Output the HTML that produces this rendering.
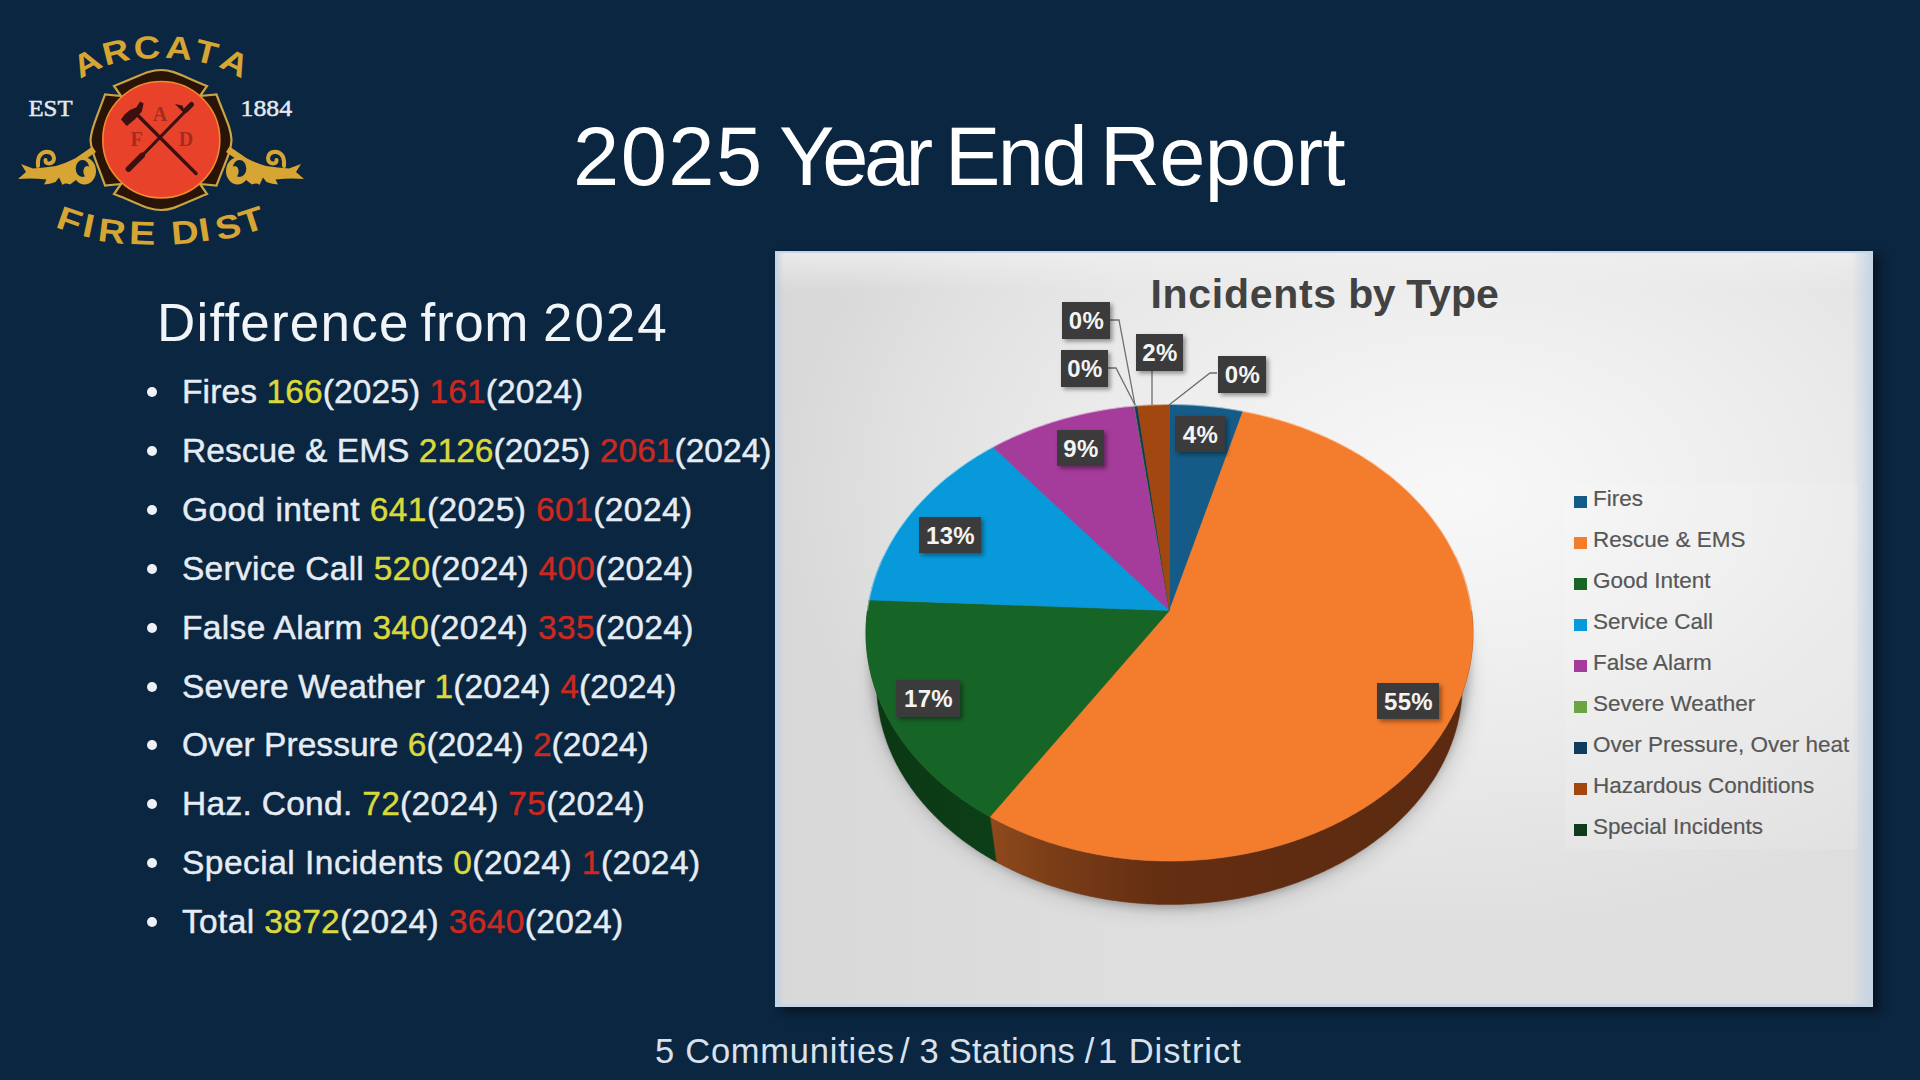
<!DOCTYPE html>
<html><head><meta charset="utf-8">
<style>
html,body{margin:0;padding:0;}
body{width:1920px;height:1080px;overflow:hidden;background:#0b2640;position:relative;font-family:"Liberation Sans",sans-serif;}
.abs{position:absolute;}
.tw{position:absolute;top:107px;font-size:83px;line-height:100px;color:#fff;white-space:nowrap;}
.sb{position:absolute;top:292.5px;font-size:53px;line-height:60px;color:#f2f5f8;white-space:nowrap;}
.bi{position:absolute;left:182px;height:40px;line-height:40px;font-size:33.5px;color:#e6ecf3;white-space:nowrap;-webkit-text-stroke:0.45px currentColor;}
.bi .y{color:#d9d93c;}
.bi .r{color:#c9291f;}
.dot{position:absolute;left:-35px;top:15px;width:10px;height:10px;border-radius:50%;background:#eef2f6;}
#chart{position:absolute;left:775px;top:251px;width:1098px;height:756px;overflow:hidden;
 background:linear-gradient(to right, rgba(190,205,225,0) 0, rgba(190,205,225,0) calc(100% - 22px), rgba(190,208,228,0.85) 100%),
 linear-gradient(to right, rgba(185,203,225,0.75) 0, rgba(185,203,225,0) 9px),
 linear-gradient(to bottom, rgba(240,240,240,0.8) 0, rgba(240,240,240,0) 40px),
 radial-gradient(ellipse 62% 58% at 62% 32%, #f8f8f8 0%, #efefef 40%, rgba(225,225,225,0) 100%),
 linear-gradient(to right, #d8d8d8 0%, #dfdfdf 35%, #dedede 100%);
 box-shadow:7px 5px 9px rgba(8,14,26,0.75);}
#chart:after{content:"";position:absolute;left:0;top:0;right:0;bottom:0;border:2px solid #c6d5e5;border-right-width:3px;border-bottom-width:3px;}
#csvg{position:absolute;left:-775px;top:-251px;}
#ctitle{position:absolute;left:375.5px;top:19px;font-weight:bold;font-size:41px;line-height:48px;color:#424242;white-space:nowrap;}
#legendbox{position:absolute;left:790px;top:232px;width:293px;height:366px;background:rgba(255,255,255,0.12);}
.lg{position:absolute;left:799px;height:28px;line-height:28px;font-size:22.5px;color:#575757;white-space:nowrap;-webkit-text-stroke:0.2px #575757;}
.sq{display:inline-block;width:13px;height:12px;margin-right:6px;vertical-align:-2px;}
.lab{font-family:"Liberation Sans",sans-serif;font-weight:bold;font-size:24px;fill:#f4f4f4;letter-spacing:0.3px;}
.ft{position:absolute;top:1031px;font-size:34.5px;line-height:40px;color:#d8e1ec;white-space:nowrap;}
#logo{position:absolute;left:0;top:0;}
</style></head><body>
<svg id="logo" width="320" height="260" viewBox="0 0 320 260"><g fill="#d6a534" font-family="Liberation Sans" font-weight="bold" font-size="32" text-anchor="middle">
<text transform="translate(92,72.5) rotate(-28) scale(1.18,1)">A</text>
<text transform="translate(118.5,62.5) rotate(-14) scale(1.15,1)">R</text>
<text transform="translate(147.5,58.5) rotate(-3) scale(1.15,1)">C</text>
<text transform="translate(178,59) rotate(5) scale(1.15,1)">A</text>
<text transform="translate(204,63) rotate(14) scale(1.15,1)">T</text>
<text transform="translate(230,72.5) rotate(27) scale(1.18,1)">A</text>
</g>
<g fill="#d6a534" font-family="Liberation Sans" font-weight="bold" font-size="33" text-anchor="middle">
<text transform="translate(66,231) rotate(19) scale(1.2,1)">F</text>
<text transform="translate(86.5,237) rotate(12) scale(1.2,1)">I</text>
<text transform="translate(110.5,242.5) rotate(7) scale(1.15,1)">R</text>
<text transform="translate(142,244.5) rotate(2) scale(1.2,1)">E</text>
<text transform="translate(186,243.5) rotate(-5) scale(1.15,1)">D</text>
<text transform="translate(206,241) rotate(-9) scale(1.2,1)">I</text>
<text transform="translate(230.5,238) rotate(-13) scale(1.15,1)">S</text>
<text transform="translate(255,231) rotate(-18) scale(1.2,1)">T</text>
</g>
<g fill="#e3e9f0" font-family="Liberation Serif" font-size="24">
<text x="28.5" y="115.5" textLength="44" lengthAdjust="spacingAndGlyphs" stroke="#e3e9f0" stroke-width="0.5">EST</text>
<text x="240.5" y="115.5" textLength="51.5" lengthAdjust="spacingAndGlyphs" stroke="#e3e9f0" stroke-width="0.5">1884</text>
</g>
<!-- badge -->
<path d="M114,86 C140,76 148,70 161,70 C174,70 182,76 207,86 L200,96 L216.5,94.5 C226,120 231,128 231.5,140 C231,152 226,160 216.5,185.5 L200,184 L207,194 C182,204 174,210 161,210 C148,210 140,204 114,194 L121,184 L105,185.5 C96,160 91,152 90.5,140 C91,128 96,120 105,94.5 L121,96 Z" fill="#2a1408" stroke="#c9a445" stroke-width="2.2" stroke-linejoin="miter"/>
<ellipse cx="161.3" cy="139.7" rx="58.5" ry="58.2" fill="#e8432a" stroke="#f28a2c" stroke-width="1.6"/>
<!-- axe & pike -->
<g stroke="#3a1010" stroke-linecap="round" fill="#3a1010">
<line x1="138.5" y1="116" x2="196" y2="173.5" stroke-width="3.4"/>
<line x1="192" y1="104.5" x2="130" y2="168" stroke-width="3.2"/>
<line x1="128.5" y1="169" x2="142" y2="155.5" stroke-width="5.8"/>
<line x1="186" y1="110" x2="191.5" y2="104.5" stroke-width="5"/>
<path d="M121,119.5 L126.8,126 L134.7,119.4 L141.8,111.5 L143.6,103.5 L140.2,101.6 L136.2,107.6 L130,110 L124.4,114.7 Z" stroke="none"/>
<path d="M184,112 L177.5,105.5 L182,106.5 Z" stroke-width="1.6"/>
</g>
<g fill="#a32b1f" font-family="Liberation Serif" font-weight="bold" font-size="20" text-anchor="middle">
<text x="160" y="120.5">A</text>
<text x="136.5" y="145.5">F</text>
<text x="186" y="145.5">D</text>
</g>
<!-- scrolls -->
<g id="scrL" fill="#d6a534">
<path d="M18,179 L26,172 L21,164 L33,168.5 Q44,167.5 56,166 Q66,163 75,158.5 L92.5,146.5 L96,152 L86,159 L76,162 L74,172 L76,180 L70,184.5 Q65,182.5 62.5,185 L59,177.5 L55.5,182 Q50,184 44,184.5 L46.5,179.5 Q32,178 18,179 Z"/>
<ellipse cx="84.5" cy="171" rx="11.5" ry="13.5"/><ellipse cx="82.5" cy="168.5" rx="6.8" ry="8.5" fill="#0b2640"/><ellipse cx="87.2" cy="171.5" rx="3.8" ry="5.5"/>
<path d="M38,166 Q37,154 45,152 Q53,151 54,158 Q54,163 49,163.5 Q45,163.5 45.5,160" fill="none" stroke="#d6a534" stroke-width="4" stroke-linecap="round"/>
</g>
<use href="#scrL" transform="translate(322,0) scale(-1,1)"/>
</svg>
<div class="tw" style="left:573px;letter-spacing:1.5px">2025</div><div class="tw" style="left:779px;letter-spacing:-4.5px">Year</div><div class="tw" style="left:945px;letter-spacing:-2.5px">End</div><div class="tw" style="left:1100px;letter-spacing:-0.7px">Report</div>
<div class="sb" style="left:157px;letter-spacing:1.2px">Difference</div><div class="sb" style="left:420.5px;letter-spacing:0.65px">from</div><div class="sb" style="left:543px;letter-spacing:1.9px">2024</div>
<div class="bi" style="top:372.0px;letter-spacing:0.11px"><span class="dot"></span>Fires <span class="y">166</span>(2025) <span class="r">161</span>(2024)</div>
<div class="bi" style="top:430.9px;letter-spacing:0.03px"><span class="dot"></span>Rescue &amp; EMS <span class="y">2126</span>(2025) <span class="r">2061</span>(2024)</div>
<div class="bi" style="top:489.8px;letter-spacing:0.43px"><span class="dot"></span>Good intent <span class="y">641</span>(2025) <span class="r">601</span>(2024)</div>
<div class="bi" style="top:548.7px;letter-spacing:0.28px"><span class="dot"></span>Service Call <span class="y">520</span>(2024) <span class="r">400</span>(2024)</div>
<div class="bi" style="top:607.6px;letter-spacing:0.35px"><span class="dot"></span>False Alarm <span class="y">340</span>(2024) <span class="r">335</span>(2024)</div>
<div class="bi" style="top:666.5px;letter-spacing:0.12px"><span class="dot"></span>Severe Weather <span class="y">1</span>(2024) <span class="r">4</span>(2024)</div>
<div class="bi" style="top:725.4px;letter-spacing:0.04px"><span class="dot"></span>Over Pressure <span class="y">6</span>(2024) <span class="r">2</span>(2024)</div>
<div class="bi" style="top:784.3px;letter-spacing:0.30px"><span class="dot"></span>Haz. Cond. <span class="y">72</span>(2024) <span class="r">75</span>(2024)</div>
<div class="bi" style="top:843.2px;letter-spacing:0.48px"><span class="dot"></span>Special Incidents <span class="y">0</span>(2024) <span class="r">1</span>(2024)</div>
<div class="bi" style="top:902.1px;letter-spacing:0.35px"><span class="dot"></span>Total <span class="y">3872</span>(2024) <span class="r">3640</span>(2024)</div>
<div id="chart">
<svg id="csvg" width="1920" height="1080" viewBox="0 0 1920 1080">
<defs>
<linearGradient id="gOr" gradientUnits="userSpaceOnUse" x1="990" y1="0" x2="1475" y2="0"><stop offset="0" stop-color="#8f4a1c"/><stop offset="0.12" stop-color="#7c3e18"/><stop offset="0.35" stop-color="#642e12"/><stop offset="1" stop-color="#5a2a10"/></linearGradient>
<linearGradient id="gGr" gradientUnits="userSpaceOnUse" x1="866" y1="0" x2="990" y2="0"><stop offset="0" stop-color="#0b3713"/><stop offset="1" stop-color="#0c3f17"/></linearGradient>
<filter id="blur" x="-30%" y="-30%" width="160%" height="160%"><feGaussianBlur stdDeviation="12"/></filter><filter id="blur2" x="-30%" y="-30%" width="160%" height="160%"><feGaussianBlur stdDeviation="4"/></filter>
<filter id="ds" x="-30%" y="-30%" width="160%" height="160%"><feDropShadow dx="2.5" dy="2.5" stdDeviation="2.2" flood-color="#000" flood-opacity="0.4"/></filter>
</defs>
<ellipse cx="1172" cy="680" rx="296" ry="228" fill="#000" opacity="0.16" filter="url(#blur)"/><ellipse cx="1170" cy="660" rx="300" ry="248" fill="#000" opacity="0.22" filter="url(#blur2)"/>
<polygon points="1455.3,555.9 1456.3,558.0 1457.2,560.1 1458.1,562.2 1459.0,564.3 1459.9,566.5 1460.8,568.6 1461.6,570.8 1462.4,572.9 1463.2,575.1 1463.9,577.3 1464.6,579.5 1465.3,581.6 1465.9,583.8 1466.6,586.1 1467.2,588.3 1467.7,590.5 1468.3,592.7 1468.8,594.9 1469.3,597.2 1469.7,599.4 1470.2,601.7 1470.6,603.9 1470.9,606.2 1471.3,608.4 1471.6,610.7 1471.9,613.0 1472.1,615.2 1472.3,617.5 1472.5,619.8 1472.7,622.1 1472.8,624.4 1472.9,626.7 1473.0,629.0 1473.0,631.3 1473.0,633.6 1473.0,635.9 1472.9,638.2 1472.8,640.5 1472.7,642.8 1472.6,645.1 1472.4,647.4 1472.2,649.7 1471.9,652.0 1471.6,654.4 1471.3,656.7 1471.0,659.0 1470.6,661.3 1470.2,663.6 1469.8,665.9 1469.3,668.2 1468.8,670.5 1468.3,672.8 1467.7,675.1 1467.1,677.4 1466.5,679.7 1465.8,682.0 1465.1,684.3 1464.4,686.6 1463.7,688.9 1462.9,691.2 1462.1,693.5 1461.2,695.7 1460.3,698.0 1459.4,700.3 1458.5,702.5 1457.5,704.8 1456.5,707.0 1455.4,709.3 1454.4,711.5 1453.2,713.8 1452.1,716.0 1450.9,718.2 1449.7,720.4 1448.5,722.6 1447.2,724.8 1445.9,727.0 1444.6,729.2 1443.2,731.3 1441.9,733.5 1440.4,735.6 1439.0,737.8 1437.5,739.9 1436.0,742.0 1434.4,744.1 1432.8,746.2 1431.2,748.3 1429.6,750.4 1427.9,752.5 1426.2,754.5 1424.5,756.6 1422.7,758.6 1420.9,760.6 1419.1,762.6 1417.2,764.6 1415.4,766.6 1413.5,768.5 1411.5,770.5 1409.5,772.4 1407.5,774.4 1405.5,776.3 1403.5,778.2 1401.4,780.0 1399.3,781.9 1397.1,783.7 1395.0,785.6 1392.8,787.4 1390.5,789.2 1388.3,791.0 1386.0,792.7 1383.7,794.5 1381.4,796.2 1379.0,797.9 1376.6,799.6 1374.2,801.3 1371.8,802.9 1369.3,804.6 1366.8,806.2 1364.3,807.8 1361.8,809.4 1359.2,810.9 1356.7,812.5 1354.1,814.0 1351.4,815.5 1348.8,816.9 1346.1,818.4 1343.4,819.8 1340.7,821.3 1337.9,822.6 1335.2,824.0 1332.4,825.4 1329.6,826.7 1326.8,828.0 1323.9,829.3 1321.1,830.5 1318.2,831.8 1315.3,833.0 1312.3,834.2 1309.4,835.3 1306.4,836.5 1303.5,837.6 1300.5,838.7 1297.5,839.7 1294.4,840.8 1291.4,841.8 1288.3,842.8 1285.2,843.8 1282.2,844.7 1279.0,845.6 1275.9,846.5 1272.8,847.4 1269.6,848.2 1266.5,849.1 1263.3,849.8 1260.1,850.6 1256.9,851.4 1253.7,852.1 1250.5,852.7 1247.3,853.4 1244.0,854.0 1240.8,854.6 1237.5,855.2 1234.2,855.8 1231.0,856.3 1227.7,856.8 1224.4,857.3 1221.1,857.7 1217.8,858.1 1214.4,858.5 1211.1,858.9 1207.8,859.2 1204.5,859.5 1201.1,859.8 1197.8,860.0 1194.4,860.3 1191.1,860.4 1187.7,860.6 1184.4,860.8 1181.0,860.9 1177.7,860.9 1174.3,861.0 1171.0,861.0 1167.6,861.0 1164.2,861.0 1160.9,860.9 1157.5,860.8 1154.2,860.7 1150.8,860.6 1147.5,860.4 1144.1,860.2 1140.8,860.0 1137.4,859.7 1134.1,859.5 1130.8,859.2 1127.4,858.8 1124.1,858.5 1120.8,858.1 1117.5,857.7 1114.2,857.2 1110.9,856.7 1107.6,856.2 1104.3,855.7 1101.1,855.1 1097.8,854.6 1094.6,854.0 1091.3,853.3 1088.1,852.7 1084.9,852.0 1081.7,851.3 1078.5,850.5 1075.3,849.7 1072.1,849.0 1069.0,848.1 1065.8,847.3 1062.7,846.4 1059.6,845.5 1056.4,844.6 1053.4,843.7 1050.3,842.7 1047.2,841.7 1044.2,840.7 1041.2,839.6 1038.1,838.5 1035.2,837.4 1032.2,836.3 1029.2,835.2 1026.3,834.0 1023.4,832.8 1020.5,831.6 1017.6,830.4 1014.7,829.1 1011.9,827.8 1009.0,826.5 1006.2,825.2 1003.5,823.8 1000.7,822.5 998.0,821.1 995.2,819.7 992.6,818.2 989.9,816.8 996.2,861.8 998.7,863.2 1001.3,864.6 1004.0,866.0 1006.6,867.3 1009.3,868.6 1012.0,869.9 1014.7,871.2 1017.4,872.5 1020.1,873.7 1022.9,874.9 1025.7,876.1 1028.5,877.3 1031.3,878.5 1034.1,879.6 1037.0,880.7 1039.9,881.8 1042.7,882.8 1045.6,883.9 1048.6,884.9 1051.5,885.9 1054.5,886.8 1057.4,887.8 1060.4,888.7 1063.4,889.6 1066.4,890.4 1069.4,891.3 1072.5,892.1 1075.5,892.9 1078.6,893.6 1081.7,894.4 1084.7,895.1 1087.8,895.8 1090.9,896.5 1094.1,897.1 1097.2,897.7 1100.3,898.3 1103.5,898.9 1106.6,899.4 1109.8,899.9 1113.0,900.4 1116.1,900.8 1119.3,901.3 1122.5,901.7 1125.7,902.0 1128.9,902.4 1132.1,902.7 1135.3,903.0 1138.6,903.3 1141.8,903.5 1145.0,903.8 1148.2,903.9 1151.5,904.1 1154.7,904.2 1157.9,904.4 1161.2,904.4 1164.4,904.5 1167.7,904.5 1170.9,904.5 1174.2,904.5 1177.4,904.4 1180.6,904.4 1183.9,904.3 1187.1,904.1 1190.3,904.0 1193.6,903.8 1196.8,903.6 1200.0,903.3 1203.2,903.1 1206.5,902.8 1209.7,902.4 1212.9,902.1 1216.1,901.7 1219.3,901.3 1222.5,900.9 1225.6,900.4 1228.8,900.0 1232.0,899.5 1235.1,898.9 1238.3,898.4 1241.4,897.8 1244.5,897.2 1247.7,896.5 1250.8,895.9 1253.9,895.2 1256.9,894.5 1260.0,893.7 1263.1,893.0 1266.1,892.2 1269.2,891.4 1272.2,890.5 1275.2,889.7 1278.2,888.8 1281.2,887.9 1284.2,886.9 1287.1,886.0 1290.1,885.0 1293.0,884.0 1295.9,883.0 1298.8,881.9 1301.6,880.8 1304.5,879.7 1307.3,878.6 1310.2,877.5 1313.0,876.3 1315.7,875.1 1318.5,873.9 1321.3,872.6 1324.0,871.4 1326.7,870.1 1329.4,868.8 1332.0,867.5 1334.7,866.1 1337.3,864.8 1339.9,863.4 1342.5,862.0 1345.1,860.6 1347.6,859.1 1350.1,857.7 1352.6,856.2 1355.1,854.7 1357.5,853.1 1359.9,851.6 1362.3,850.0 1364.7,848.5 1367.1,846.9 1369.4,845.2 1371.7,843.6 1374.0,842.0 1376.2,840.3 1378.4,838.6 1380.6,836.9 1382.8,835.2 1384.9,833.5 1387.1,831.7 1389.2,829.9 1391.2,828.2 1393.3,826.4 1395.3,824.6 1397.3,822.7 1399.2,820.9 1401.1,819.0 1403.0,817.2 1404.9,815.3 1406.8,813.4 1408.6,811.5 1410.4,809.6 1412.1,807.6 1413.9,805.7 1415.6,803.7 1417.2,801.7 1418.9,799.8 1420.5,797.8 1422.1,795.8 1423.6,793.8 1425.1,791.7 1426.6,789.7 1428.1,787.6 1429.5,785.6 1430.9,783.5 1432.3,781.4 1433.7,779.4 1435.0,777.3 1436.3,775.2 1437.5,773.1 1438.7,770.9 1439.9,768.8 1441.1,766.7 1442.2,764.6 1443.3,762.4 1444.4,760.3 1445.4,758.1 1446.4,755.9 1447.4,753.8 1448.4,751.6 1449.3,749.4 1450.1,747.2 1451.0,745.0 1451.8,742.8 1452.6,740.6 1453.4,738.4 1454.1,736.2 1454.8,734.0 1455.5,731.8 1456.1,729.6 1456.7,727.4 1457.3,725.2 1457.8,722.9 1458.3,720.7 1458.8,718.5 1459.3,716.2 1459.7,714.0 1460.1,711.8 1460.4,709.6 1460.8,707.3 1461.1,705.1 1461.3,702.9 1461.6,700.6 1461.8,698.4 1461.9,696.2 1462.1,693.9 1462.2,691.7 1462.3,689.5 1462.3,687.3 1462.4,685.0 1462.4,682.8 1462.3,680.6 1462.3,678.4 1462.2,676.2 1462.1,674.0 1461.9,671.8 1461.7,669.5 1461.5,667.3 1461.3,665.2 1461.0,663.0 1460.7,660.8 1460.4,658.6 1460.0,656.4 1459.6,654.2 1459.2,652.1 1458.8,649.9 1458.3,647.7 1457.8,645.6 1457.3,643.4 1456.8,641.3 1456.2,639.2 1455.6,637.0 1454.9,634.9 1454.3,632.8 1453.6,630.7 1452.9,628.6 1452.1,626.5 1451.4,624.4 1450.6,622.4 1449.8,620.3 1448.9,618.2 1448.0,616.2 1447.1,614.1 1446.2,612.1 1445.3,610.1" fill="url(#gOr)" stroke="#6e3414" stroke-width="0.5"/>
<polygon points="989.9,816.8 987.2,815.3 984.6,813.8 982.0,812.3 979.5,810.7 976.9,809.2 974.4,807.6 971.9,806.0 969.4,804.4 967.0,802.8 964.5,801.1 962.1,799.4 959.8,797.8 957.4,796.0 955.1,794.3 952.8,792.6 950.5,790.8 948.3,789.1 946.1,787.3 943.9,785.5 941.7,783.6 939.6,781.8 937.5,779.9 935.4,778.1 933.4,776.2 931.4,774.3 929.4,772.4 927.4,770.4 925.5,768.5 923.6,766.5 921.7,764.5 919.9,762.6 918.0,760.6 916.3,758.6 914.5,756.5 912.8,754.5 911.1,752.5 909.4,750.4 907.8,748.3 906.2,746.2 904.6,744.1 903.0,742.0 901.5,739.9 900.1,737.8 898.6,735.7 897.2,733.5 895.8,731.4 894.4,729.2 893.1,727.1 891.8,724.9 890.6,722.7 889.3,720.5 888.1,718.3 886.9,716.1 885.8,713.9 884.7,711.6 883.6,709.4 882.6,707.2 881.6,704.9 880.6,702.7 879.7,700.4 878.7,698.2 877.9,695.9 877.0,693.7 876.2,691.4 875.4,689.1 874.6,686.8 873.9,684.6 873.2,682.3 872.6,680.0 871.9,677.7 871.3,675.4 870.8,673.1 870.3,670.8 869.7,668.5 869.3,666.2 868.8,663.9 868.4,661.6 868.1,659.3 867.7,657.0 867.4,654.7 867.1,652.4 866.9,650.1 866.7,647.8 866.5,645.5 866.3,643.2 866.2,640.9 866.1,638.6 866.0,636.3 866.0,634.0 866.0,631.7 866.0,629.4 866.1,627.1 866.2,624.8 866.3,622.5 866.5,620.3 866.6,618.0 866.9,615.7 867.1,613.4 867.4,611.2 867.7,608.9 868.0,606.7 868.4,604.4 868.7,602.2 869.2,599.9 879.7,652.6 879.3,654.7 878.9,656.9 878.5,659.1 878.2,661.2 877.9,663.4 877.7,665.6 877.4,667.8 877.2,670.0 877.1,672.2 876.9,674.4 876.8,676.6 876.7,678.8 876.7,681.0 876.6,683.2 876.6,685.4 876.7,687.6 876.7,689.9 876.8,692.1 876.9,694.3 877.1,696.5 877.3,698.7 877.5,701.0 877.7,703.2 878.0,705.4 878.3,707.6 878.6,709.9 879.0,712.1 879.4,714.3 879.8,716.5 880.2,718.7 880.7,721.0 881.2,723.2 881.8,725.4 882.4,727.6 883.0,729.8 883.6,732.0 884.3,734.2 885.0,736.4 885.7,738.6 886.5,740.8 887.2,743.0 888.1,745.2 888.9,747.4 889.8,749.6 890.7,751.7 891.7,753.9 892.6,756.1 893.6,758.2 894.7,760.4 895.7,762.5 896.8,764.7 898.0,766.8 899.1,768.9 900.3,771.0 901.5,773.1 902.8,775.2 904.1,777.3 905.4,779.4 906.7,781.5 908.1,783.6 909.5,785.6 910.9,787.7 912.4,789.7 913.9,791.7 915.4,793.8 916.9,795.8 918.5,797.8 920.1,799.7 921.8,801.7 923.4,803.7 925.1,805.6 926.8,807.6 928.6,809.5 930.4,811.4 932.2,813.3 934.0,815.2 935.9,817.1 937.8,819.0 939.7,820.8 941.6,822.6 943.6,824.5 945.6,826.3 947.7,828.1 949.7,829.8 951.8,831.6 953.9,833.3 956.0,835.1 958.2,836.8 960.4,838.5 962.6,840.2 964.8,841.8 967.1,843.5 969.4,845.1 971.7,846.7 974.1,848.3 976.4,849.9 978.8,851.4 981.2,853.0 983.7,854.5 986.1,856.0 988.6,857.5 991.1,858.9 993.6,860.4 996.2,861.8" fill="url(#gGr)" stroke="#0c3d16" stroke-width="0.5"/>
<polygon points="869.2,599.9 869.6,597.6 870.1,595.4 870.6,593.1 871.2,590.9 871.7,588.6 872.3,586.4 873.0,584.2 873.6,581.9 874.3,579.7 875.0,577.5 875.8,575.3 876.5,573.1 877.3,570.9 878.2,568.8 879.0,566.6 879.9,564.4 880.8,562.3 881.8,560.1 882.7,558.0 883.7,555.9 893.7,610.1 892.8,612.1 891.8,614.2 890.9,616.2 890.1,618.3 889.2,620.4 888.4,622.5 887.6,624.6 886.8,626.7 886.1,628.8 885.3,630.9 884.6,633.1 884.0,635.2 883.3,637.4 882.7,639.5 882.1,641.7 881.6,643.8 881.1,646.0 880.6,648.2 880.1,650.4 879.7,652.6" fill="#075c82" stroke="#075c82" stroke-width="0.5"/>
<polygon points="1169.5,610.5 1169.5,404.5 1172.4,404.5 1175.2,404.5 1178.1,404.6 1180.9,404.6 1183.8,404.7 1186.6,404.8 1189.4,405.0 1192.3,405.1 1195.1,405.3 1198.0,405.5 1200.8,405.7 1203.7,405.9 1206.5,406.2 1209.3,406.5 1212.1,406.8 1215.0,407.1 1217.8,407.4 1220.6,407.7 1223.4,408.1 1226.2,408.5 1229.0,408.9 1231.8,409.4 1234.6,409.8 1237.4,410.3 1240.2,410.8 1243.0,411.3" fill="#155b87" stroke="#155b87" stroke-width="0.6"/>
<polygon points="1169.5,610.5 1243.0,411.3 1245.7,411.8 1248.3,412.3 1251.0,412.9 1253.7,413.4 1256.3,414.0 1259.0,414.6 1261.6,415.3 1264.3,415.9 1266.9,416.6 1269.5,417.2 1272.2,417.9 1274.8,418.7 1277.4,419.4 1280.0,420.1 1282.5,420.9 1285.1,421.7 1287.7,422.5 1290.2,423.3 1292.8,424.2 1295.3,425.0 1297.9,425.9 1300.4,426.8 1302.9,427.7 1305.4,428.7 1307.9,429.6 1310.4,430.6 1312.8,431.6 1315.3,432.6 1317.8,433.6 1320.2,434.6 1322.6,435.7 1325.0,436.7 1327.4,437.8 1329.8,438.9 1332.2,440.1 1334.6,441.2 1336.9,442.4 1339.2,443.5 1341.6,444.7 1343.9,445.9 1346.2,447.1 1348.5,448.4 1350.7,449.6 1353.0,450.9 1355.2,452.2 1357.4,453.5 1359.6,454.8 1361.8,456.2 1364.0,457.5 1366.2,458.9 1368.3,460.3 1370.5,461.7 1372.6,463.1 1374.7,464.6 1376.8,466.0 1378.8,467.5 1380.9,469.0 1382.9,470.5 1384.9,472.0 1386.9,473.5 1388.9,475.0 1390.9,476.6 1392.8,478.2 1394.7,479.8 1396.6,481.4 1398.5,483.0 1400.4,484.6 1402.3,486.3 1404.1,487.9 1405.9,489.6 1407.7,491.3 1409.5,493.0 1411.2,494.7 1412.9,496.4 1414.6,498.2 1416.3,499.9 1418.0,501.7 1419.6,503.5 1421.3,505.3 1422.9,507.1 1424.5,508.9 1426.0,510.8 1427.6,512.6 1429.1,514.5 1430.6,516.3 1432.0,518.2 1433.5,520.1 1434.9,522.0 1436.3,524.0 1437.7,525.9 1439.0,527.8 1440.4,529.8 1441.7,531.8 1443.0,533.7 1444.2,535.7 1445.5,537.7 1446.7,539.8 1447.8,541.8 1449.0,543.8 1450.1,545.9 1451.2,547.9 1452.3,550.0 1453.4,552.0 1454.4,554.1 1455.4,556.2 1456.4,558.3 1457.4,560.4 1458.3,562.5 1459.2,564.7 1460.1,566.8 1460.9,569.0 1461.7,571.1 1462.5,573.3 1463.3,575.4 1464.0,577.6 1464.7,579.8 1465.4,582.0 1466.0,584.2 1466.7,586.4 1467.3,588.6 1467.8,590.8 1468.4,593.0 1468.9,595.3 1469.4,597.5 1469.8,599.7 1470.2,602.0 1470.6,604.2 1471.0,606.5 1471.3,608.8 1471.6,611.0 1471.9,613.3 1472.1,615.6 1472.3,617.8 1472.5,620.1 1472.7,622.4 1472.8,624.7 1472.9,627.0 1473.0,629.3 1473.0,631.6 1473.0,633.9 1473.0,636.2 1472.9,638.5 1472.8,640.8 1472.7,643.1 1472.5,645.4 1472.3,647.7 1472.1,650.0 1471.9,652.4 1471.6,654.7 1471.3,657.0 1470.9,659.3 1470.6,661.6 1470.2,663.9 1469.7,666.2 1469.2,668.5 1468.7,670.8 1468.2,673.1 1467.6,675.4 1467.0,677.7 1466.4,680.0 1465.8,682.3 1465.1,684.6 1464.3,686.9 1463.6,689.2 1462.8,691.5 1462.0,693.7 1461.1,696.0 1460.2,698.3 1459.3,700.5 1458.4,702.8 1457.4,705.1 1456.4,707.3 1455.3,709.5 1454.2,711.8 1453.1,714.0 1452.0,716.2 1450.8,718.4 1449.6,720.6 1448.4,722.8 1447.1,725.0 1445.8,727.2 1444.5,729.4 1443.1,731.6 1441.7,733.7 1440.3,735.9 1438.8,738.0 1437.3,740.1 1435.8,742.2 1434.3,744.4 1432.7,746.4 1431.1,748.5 1429.4,750.6 1427.7,752.7 1426.0,754.7 1424.3,756.8 1422.5,758.8 1420.7,760.8 1418.9,762.8 1417.1,764.8 1415.2,766.8 1413.3,768.7 1411.3,770.7 1409.4,772.6 1407.4,774.5 1405.3,776.4 1403.3,778.3 1401.2,780.2 1399.1,782.1 1396.9,783.9 1394.8,785.7 1392.6,787.5 1390.3,789.3 1388.1,791.1 1385.8,792.9 1383.5,794.6 1381.2,796.3 1378.8,798.0 1376.4,799.7 1374.0,801.4 1371.6,803.1 1369.1,804.7 1366.6,806.3 1364.1,807.9 1361.6,809.5 1359.0,811.0 1356.5,812.6 1353.9,814.1 1351.2,815.6 1348.6,817.1 1345.9,818.5 1343.2,819.9 1340.5,821.4 1337.7,822.7 1335.0,824.1 1332.2,825.5 1329.4,826.8 1326.6,828.1 1323.7,829.4 1320.8,830.6 1318.0,831.8 1315.1,833.1 1312.1,834.2 1309.2,835.4 1306.2,836.5 1303.3,837.7 1300.3,838.8 1297.3,839.8 1294.2,840.9 1291.2,841.9 1288.1,842.9 1285.1,843.8 1282.0,844.8 1278.9,845.7 1275.7,846.6 1272.6,847.5 1269.5,848.3 1266.3,849.1 1263.1,849.9 1259.9,850.7 1256.7,851.4 1253.5,852.1 1250.3,852.8 1247.1,853.4 1243.8,854.1 1240.6,854.7 1237.3,855.3 1234.1,855.8 1230.8,856.3 1227.5,856.8 1224.2,857.3 1220.9,857.7 1217.6,858.1 1214.3,858.5 1211.0,858.9 1207.6,859.2 1204.3,859.5 1201.0,859.8 1197.6,860.0 1194.3,860.3 1191.0,860.5 1187.6,860.6 1184.3,860.8 1180.9,860.9 1177.5,860.9 1174.2,861.0 1170.8,861.0 1167.5,861.0 1164.1,861.0 1160.8,860.9 1157.4,860.8 1154.1,860.7 1150.7,860.6 1147.4,860.4 1144.0,860.2 1140.7,860.0 1137.3,859.7 1134.0,859.5 1130.7,859.2 1127.3,858.8 1124.0,858.4 1120.7,858.1 1117.4,857.6 1114.1,857.2 1110.8,856.7 1107.5,856.2 1104.3,855.7 1101.0,855.1 1097.7,854.6 1094.5,853.9 1091.3,853.3 1088.0,852.6 1084.8,852.0 1081.6,851.2 1078.4,850.5 1075.2,849.7 1072.1,848.9 1068.9,848.1 1065.8,847.3 1062.6,846.4 1059.5,845.5 1056.4,844.6 1053.3,843.6 1050.2,842.7 1047.2,841.7 1044.1,840.6 1041.1,839.6 1038.1,838.5 1035.1,837.4 1032.1,836.3 1029.2,835.2 1026.3,834.0 1023.3,832.8 1020.4,831.6 1017.6,830.4 1014.7,829.1 1011.9,827.8 1009.0,826.5 1006.2,825.2 1003.5,823.8 1000.7,822.5 998.0,821.1 995.2,819.7 992.6,818.2 989.9,816.8" fill="#f47c2d" stroke="#f47c2d" stroke-width="0.6"/>
<polygon points="1169.5,610.5 989.9,816.8 987.2,815.3 984.6,813.8 982.0,812.3 979.5,810.7 976.9,809.2 974.4,807.6 971.9,806.0 969.4,804.4 967.0,802.8 964.5,801.1 962.1,799.4 959.8,797.8 957.4,796.0 955.1,794.3 952.8,792.6 950.5,790.8 948.3,789.1 946.1,787.3 943.9,785.5 941.7,783.6 939.6,781.8 937.5,779.9 935.4,778.1 933.4,776.2 931.4,774.3 929.4,772.4 927.4,770.4 925.5,768.5 923.6,766.5 921.7,764.5 919.9,762.6 918.0,760.6 916.3,758.6 914.5,756.5 912.8,754.5 911.1,752.5 909.4,750.4 907.8,748.3 906.2,746.2 904.6,744.1 903.0,742.0 901.5,739.9 900.1,737.8 898.6,735.7 897.2,733.5 895.8,731.4 894.4,729.2 893.1,727.1 891.8,724.9 890.6,722.7 889.3,720.5 888.1,718.3 886.9,716.1 885.8,713.9 884.7,711.6 883.6,709.4 882.6,707.2 881.6,704.9 880.6,702.7 879.7,700.4 878.7,698.2 877.9,695.9 877.0,693.7 876.2,691.4 875.4,689.1 874.6,686.8 873.9,684.6 873.2,682.3 872.6,680.0 871.9,677.7 871.3,675.4 870.8,673.1 870.3,670.8 869.7,668.5 869.3,666.2 868.8,663.9 868.4,661.6 868.1,659.3 867.7,657.0 867.4,654.7 867.1,652.4 866.9,650.1 866.7,647.8 866.5,645.5 866.3,643.2 866.2,640.9 866.1,638.6 866.0,636.3 866.0,634.0 866.0,631.7 866.0,629.4 866.1,627.1 866.2,624.8 866.3,622.5 866.5,620.3 866.6,618.0 866.9,615.7 867.1,613.4 867.4,611.2 867.7,608.9 868.0,606.7 868.4,604.4 868.7,602.2 869.2,599.9" fill="#176427" stroke="#176427" stroke-width="0.6"/>
<polygon points="1169.5,610.5 869.2,599.9 869.6,597.7 870.1,595.4 870.6,593.2 871.1,591.0 871.7,588.7 872.3,586.5 872.9,584.3 873.6,582.1 874.2,579.9 875.0,577.7 875.7,575.6 876.4,573.4 877.2,571.2 878.1,569.1 878.9,566.9 879.8,564.8 880.7,562.6 881.6,560.5 882.6,558.4 883.5,556.3 884.5,554.2 885.6,552.1 886.6,550.0 887.7,548.0 888.8,545.9 890.0,543.9 891.1,541.8 892.3,539.8 893.5,537.8 894.7,535.8 896.0,533.8 897.3,531.8 898.6,529.8 899.9,527.9 901.3,525.9 902.7,524.0 904.1,522.1 905.5,520.2 906.9,518.3 908.4,516.4 909.9,514.5 911.4,512.6 913.0,510.8 914.5,508.9 916.1,507.1 917.7,505.3 919.4,503.5 921.0,501.7 922.7,499.9 924.4,498.2 926.1,496.4 927.8,494.7 929.6,493.0 931.3,491.3 933.1,489.6 934.9,487.9 936.8,486.2 938.6,484.6 940.5,482.9 942.4,481.3 944.3,479.7 946.2,478.1 948.2,476.6 950.2,475.0 952.1,473.4 954.1,471.9 956.2,470.4 958.2,468.9 960.2,467.4 962.3,466.0 964.4,464.5 966.5,463.1 968.6,461.6 970.8,460.2 972.9,458.8 975.1,457.5 977.3,456.1 979.5,454.8 981.7,453.4 983.9,452.1 986.2,450.8 988.4,449.6 990.7,448.3 993.0,447.1" fill="#0899da" stroke="#0899da" stroke-width="0.6"/>
<polygon points="1169.5,610.5 993.0,447.1 995.3,445.8 997.6,444.6 999.9,443.4 1002.2,442.3 1004.6,441.1 1007.0,440.0 1009.3,438.9 1011.7,437.8 1014.1,436.7 1016.5,435.6 1019.0,434.5 1021.4,433.5 1023.9,432.5 1026.3,431.5 1028.8,430.5 1031.3,429.5 1033.8,428.6 1036.3,427.7 1038.8,426.7 1041.3,425.9 1043.8,425.0 1046.4,424.1 1048.9,423.3 1051.5,422.5 1054.1,421.6 1056.6,420.9 1059.2,420.1 1061.8,419.3 1064.4,418.6 1067.0,417.9 1069.7,417.2 1072.3,416.5 1074.9,415.9 1077.6,415.2 1080.2,414.6 1082.9,414.0 1085.5,413.4 1088.2,412.8 1090.9,412.3 1093.5,411.8 1096.2,411.2 1098.9,410.7 1101.6,410.3 1104.3,409.8 1107.0,409.4 1109.7,409.0 1112.4,408.6 1115.2,408.2 1117.9,407.8 1120.6,407.5 1123.3,407.1 1126.1,406.8 1128.8,406.5 1131.5,406.3 1134.3,406.0" fill="#a53b9b" stroke="#a53b9b" stroke-width="0.6"/>
<polygon points="1169.5,610.5 1134.3,406.0 1134.7,406.0" fill="#6aa541" stroke="#6aa541" stroke-width="0.6"/>
<polygon points="1169.5,610.5 1134.7,406.0 1137.4,405.8" fill="#0f3b5c" stroke="#0f3b5c" stroke-width="0.6"/>
<polygon points="1169.5,610.5 1137.4,405.8 1140.3,405.5 1143.2,405.3 1146.1,405.2 1149.1,405.0 1152.0,404.9 1154.9,404.8 1157.8,404.7 1160.7,404.6 1163.7,404.5 1166.6,404.5 1169.5,404.5" fill="#a2470f" stroke="#a2470f" stroke-width="0.6"/>
<polyline points="867.5,610.5 867.8,608.2 868.1,606.0 868.5,603.7 868.9,601.5 869.3,599.2 869.7,597.0 870.2,594.8 870.7,592.6 871.3,590.3 871.9,588.1 872.5,585.9 873.1,583.7 873.7,581.5 874.4,579.4 875.1,577.2 875.9,575.0 876.6,572.9 877.4,570.7 878.3,568.6 879.1,566.4 880.0,564.3 880.9,562.2 881.8,560.1 882.8,557.9 883.7,555.9 884.8,553.8 885.8,551.7 886.8,549.6 887.9,547.6 889.0,545.5 890.2,543.5 891.3,541.5 892.5,539.4 893.7,537.4 895.0,535.4 896.2,533.5 897.5,531.5 898.8,529.5 900.1,527.6 901.5,525.6 902.9,523.7 904.3,521.8 905.7,519.9 907.1,518.0 908.6,516.1 910.1,514.2 911.6,512.4 913.2,510.5 914.7,508.7 916.3,506.9 917.9,505.1 919.5,503.3 921.2,501.5 922.8,499.8 924.5,498.0 926.2,496.3 928.0,494.5 929.7,492.8 931.5,491.1 933.3,489.4 935.1,487.8 936.9,486.1 938.8,484.5 940.6,482.9 942.5,481.2 944.4,479.6 946.3,478.1 948.3,476.5 950.2,474.9 952.2,473.4 954.2,471.9 956.2,470.4 958.2,468.9 960.3,467.4 962.3,465.9 964.4,464.5 966.5,463.1 968.6,461.6 970.8,460.2 972.9,458.9 975.1,457.5 977.2,456.1 979.4,454.8 981.6,453.5 983.9,452.2 986.1,450.9 988.3,449.6 990.6,448.4 992.9,447.1 995.2,445.9 997.5,444.7 999.8,443.5 1002.1,442.3 1004.5,441.2 1006.8,440.0 1009.2,438.9 1011.6,437.8 1014.0,436.7 1016.4,435.7 1018.8,434.6 1021.2,433.6 1023.7,432.6 1026.1,431.6 1028.6,430.6 1031.1,429.6 1033.5,428.7 1036.0,427.7 1038.5,426.8 1041.1,425.9 1043.6,425.1 1046.1,424.2 1048.7,423.4 1051.2,422.5 1053.8,421.7 1056.3,420.9 1058.9,420.2 1061.5,419.4 1064.1,418.7 1066.7,418.0 1069.3,417.3 1071.9,416.6 1074.6,415.9 1077.2,415.3 1079.8,414.7 1082.5,414.1 1085.1,413.5 1087.8,412.9 1090.5,412.4 1093.1,411.8 1095.8,411.3 1098.5,410.8 1101.2,410.3 1103.9,409.9 1106.6,409.4 1109.3,409.0 1112.0,408.6 1114.7,408.2 1117.4,407.9 1120.1,407.5 1122.9,407.2 1125.6,406.9 1128.3,406.6 1131.0,406.3 1133.8,406.1 1136.5,405.8 1139.3,405.6 1142.0,405.4 1144.7,405.2 1147.5,405.1 1150.2,404.9 1153.0,404.8 1155.7,404.7 1158.5,404.6 1161.2,404.6 1164.0,404.5 1166.7,404.5 1169.5,404.5 1172.3,404.5 1175.0,404.5 1177.8,404.6 1180.5,404.6 1183.3,404.7 1186.0,404.8 1188.8,404.9 1191.5,405.1 1194.3,405.2 1197.0,405.4 1199.7,405.6 1202.5,405.8 1205.2,406.1 1208.0,406.3 1210.7,406.6 1213.4,406.9 1216.1,407.2 1218.9,407.5 1221.6,407.9 1224.3,408.2 1227.0,408.6 1229.7,409.0 1232.4,409.4 1235.1,409.9 1237.8,410.3 1240.5,410.8 1243.2,411.3 1245.9,411.8 1248.5,412.4 1251.2,412.9 1253.9,413.5 1256.5,414.1 1259.2,414.7 1261.8,415.3 1264.4,415.9 1267.1,416.6 1269.7,417.3 1272.3,418.0 1274.9,418.7 1277.5,419.4 1280.1,420.2 1282.7,420.9 1285.2,421.7 1287.8,422.5 1290.3,423.4 1292.9,424.2 1295.4,425.1 1297.9,425.9 1300.5,426.8 1303.0,427.7 1305.5,428.7 1307.9,429.6 1310.4,430.6 1312.9,431.6 1315.3,432.6 1317.8,433.6 1320.2,434.6 1322.6,435.7 1325.0,436.7 1327.4,437.8 1329.8,438.9 1332.2,440.0 1334.5,441.2 1336.9,442.3 1339.2,443.5 1341.5,444.7 1343.8,445.9 1346.1,447.1 1348.4,448.4 1350.7,449.6 1352.9,450.9 1355.1,452.2 1357.4,453.5 1359.6,454.8 1361.8,456.1 1363.9,457.5 1366.1,458.9 1368.2,460.2 1370.4,461.6 1372.5,463.1 1374.6,464.5 1376.7,465.9 1378.7,467.4 1380.8,468.9 1382.8,470.4 1384.8,471.9 1386.8,473.4 1388.8,474.9 1390.7,476.5 1392.7,478.1 1394.6,479.6 1396.5,481.2 1398.4,482.9 1400.2,484.5 1402.1,486.1 1403.9,487.8 1405.7,489.4 1407.5,491.1 1409.3,492.8 1411.0,494.5 1412.8,496.3 1414.5,498.0 1416.2,499.8 1417.8,501.5 1419.5,503.3 1421.1,505.1 1422.7,506.9 1424.3,508.7 1425.8,510.5 1427.4,512.4 1428.9,514.2 1430.4,516.1 1431.9,518.0 1433.3,519.9 1434.7,521.8 1436.1,523.7 1437.5,525.6 1438.9,527.6 1440.2,529.5 1441.5,531.5 1442.8,533.5 1444.0,535.4 1445.3,537.4 1446.5,539.4 1447.7,541.5 1448.8,543.5 1450.0,545.5 1451.1,547.6 1452.2,549.6 1453.2,551.7 1454.2,553.8 1455.3,555.9 1456.2,557.9 1457.2,560.1 1458.1,562.2 1459.0,564.3 1459.9,566.4 1460.7,568.6 1461.6,570.7 1462.4,572.9 1463.1,575.0 1463.9,577.2 1464.6,579.4 1465.3,581.5 1465.9,583.7 1466.5,585.9 1467.1,588.1 1467.7,590.3 1468.3,592.6 1468.8,594.8 1469.3,597.0 1469.7,599.2 1470.1,601.5 1470.5,603.7 1470.9,606.0 1471.2,608.2 1471.5,610.5" fill="none" stroke="#ffffff" stroke-opacity="0.45" stroke-width="1.2"/>

<polyline points="1110,320 1119,320 1135,405" fill="none" stroke="#6e6e6e" stroke-width="1.3"/>
<polyline points="1108,368 1116,368 1135,405" fill="none" stroke="#6e6e6e" stroke-width="1.3"/>
<polyline points="1152,371 1152,405" fill="none" stroke="#6e6e6e" stroke-width="1.3"/>
<polyline points="1217,373 1210,373 1169,405" fill="none" stroke="#6e6e6e" stroke-width="1.3"/>

<rect x="1062" y="302" width="48" height="37" fill="#3b3b3b" filter="url(#ds)"/>
<text x="1086.5" y="329.0" text-anchor="middle" class="lab">0%</text>
<rect x="1061" y="350" width="47" height="37" fill="#3b3b3b" filter="url(#ds)"/>
<text x="1085.0" y="377.0" text-anchor="middle" class="lab">0%</text>
<rect x="1136" y="334" width="47" height="37" fill="#3b3b3b" filter="url(#ds)"/>
<text x="1160.0" y="361.0" text-anchor="middle" class="lab">2%</text>
<rect x="1218" y="356" width="48" height="37" fill="#3b3b3b" filter="url(#ds)"/>
<text x="1242.5" y="383.0" text-anchor="middle" class="lab">0%</text>
<rect x="1175" y="416" width="50" height="36" fill="#3b3b3b" filter="url(#ds)"/>
<text x="1200.5" y="442.5" text-anchor="middle" class="lab">4%</text>
<rect x="1057" y="430" width="47" height="36" fill="#3b3b3b" filter="url(#ds)"/>
<text x="1081.0" y="456.5" text-anchor="middle" class="lab">9%</text>
<rect x="919" y="517" width="62" height="36" fill="#3b3b3b" filter="url(#ds)"/>
<text x="950.5" y="543.5" text-anchor="middle" class="lab">13%</text>
<rect x="896" y="680" width="64" height="37" fill="#3b3b3b" filter="url(#ds)"/>
<text x="928.5" y="707.0" text-anchor="middle" class="lab">17%</text>
<rect x="1377" y="683" width="62" height="36" fill="#3b3b3b" filter="url(#ds)"/>
<text x="1408.5" y="709.5" text-anchor="middle" class="lab">55%</text>
</svg>
<div id="ctitle"><span style="letter-spacing:0.7px">Incidents</span> <span style="letter-spacing:-0.6px">by</span> Type</div>
<div id="legendbox"></div>
<div class="lg" style="top:234.0px"><span class="sq" style="background:#155b87"></span>Fires</div>
<div class="lg" style="top:275.0px"><span class="sq" style="background:#f47c2d"></span>Rescue &amp; EMS</div>
<div class="lg" style="top:316.0px"><span class="sq" style="background:#176427"></span>Good Intent</div>
<div class="lg" style="top:357.0px"><span class="sq" style="background:#0899da"></span>Service Call</div>
<div class="lg" style="top:398.0px"><span class="sq" style="background:#a53b9b"></span>False Alarm</div>
<div class="lg" style="top:439.0px"><span class="sq" style="background:#6aa541"></span>Severe Weather</div>
<div class="lg" style="top:480.0px"><span class="sq" style="background:#0f3b5c"></span>Over Pressure, Over heat</div>
<div class="lg" style="top:521.0px"><span class="sq" style="background:#a2470f"></span>Hazardous Conditions</div>
<div class="lg" style="top:562.0px"><span class="sq" style="background:#0f3a1b"></span>Special Incidents</div>
</div>
<div class="ft" style="left:655px;letter-spacing:0.75px">5 Communities</div><div class="ft" style="left:900px;letter-spacing:0.2px">/ 3 Stations /</div><div class="ft" style="left:1098px;letter-spacing:0.95px">1 District</div>
</body></html>
